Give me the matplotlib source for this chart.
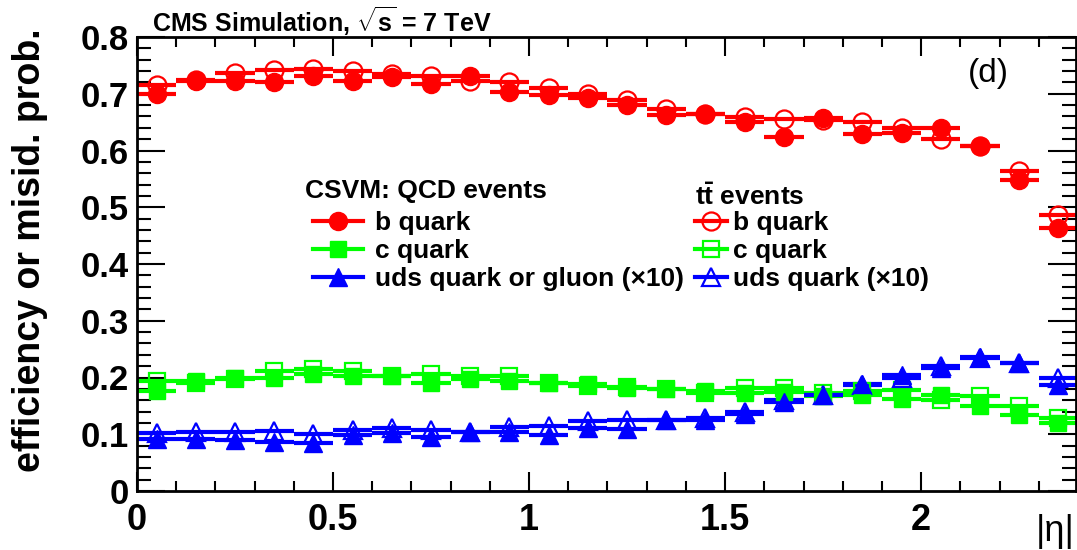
import numpy as np
import matplotlib
matplotlib.use('Agg')
import matplotlib.pyplot as plt
from matplotlib.ticker import MultipleLocator
from matplotlib.lines import Line2D

plt.rcParams['font.family'] = ['Liberation Sans', 'DejaVu Sans']
plt.rcParams['mathtext.fontset'] = 'custom'
plt.rcParams['mathtext.rm'] = 'Liberation Sans:bold'
plt.rcParams['mathtext.bf'] = 'Liberation Sans:bold'
plt.rcParams['mathtext.it'] = 'Liberation Sans:bold'

# |eta| bins (width 0.1)
eta = np.arange(24) * 0.1 + 0.05
half_width = 0.05

# QCD events (filled markers)
qcd_b = [0.699, 0.723, 0.722, 0.720, 0.732, 0.722, 0.729, 0.717, 0.731, 0.703,
         0.697, 0.693, 0.680, 0.662, 0.665, 0.651, 0.624, 0.657, 0.629, 0.631,
         0.639, 0.608, 0.548, 0.464]
qcd_c = [0.176, 0.194, 0.200, 0.200, 0.207, 0.203, 0.203, 0.191, 0.197, 0.193,
         0.191, 0.189, 0.181, 0.180, 0.177, 0.173, 0.174, 0.167, 0.169, 0.162,
         0.169, 0.149, 0.134, 0.120]
qcd_udsg = [0.092, 0.091, 0.089, 0.087, 0.085, 0.099, 0.102, 0.096, 0.104, 0.104,
            0.099, 0.111, 0.109, 0.125, 0.125, 0.135, 0.157, 0.169, 0.188, 0.205,
            0.217, 0.237, 0.226, 0.187]

# ttbar events (open markers)
tt_b = [0.716, 0.724, 0.737, 0.741, 0.744, 0.740, 0.734, 0.732, 0.722, 0.721,
        0.710, 0.700, 0.689, 0.674, 0.665, 0.659, 0.656, 0.653, 0.651, 0.640,
        0.621, 0.608, 0.563, 0.486]
tt_c = [0.194, 0.190, 0.197, 0.212, 0.215, 0.211, 0.203, 0.206, 0.203, 0.203,
        0.191, 0.185, 0.184, 0.180, 0.173, 0.181, 0.181, 0.173, 0.177, 0.178,
        0.160, 0.167, 0.149, 0.128]
tt_uds = [0.102, 0.104, 0.104, 0.105, 0.100, 0.108, 0.111, 0.107, 0.104, 0.113,
          0.114, 0.123, 0.125, 0.125, 0.128, 0.140, 0.160, 0.169, 0.187, 0.200,
          0.221, 0.235, 0.226, 0.200]

xticks = [0, 0.5, 1, 1.5, 2]
yticks = [0, 0.1, 0.2, 0.3, 0.4, 0.5, 0.6, 0.7, 0.8]

W, H = 1077, 550
fig = plt.figure(figsize=(10.77, 5.5), dpi=100)
ax = fig.add_axes([137 / W, 1 - 491 / H, (1076 - 137) / W, (491 - 37) / H])

red, green, blue = '#ff0000', '#00ff00', '#0000ff'
styles = [(red, 'o', 13), (green, 's', 12), (blue, '^', 13)]

# open markers first, filled on top
h_tt = []
for vals, (col, mk, ms) in zip([tt_b, tt_c, tt_uds], styles):
    ax.errorbar(eta, vals, xerr=half_width, fmt=mk, color=col, mfc='none', mec=col,
                mew=1.6, ms=ms, elinewidth=3, capsize=0)
    h_tt.append(Line2D([], [], color=col, lw=3, marker=mk, ms=ms, mfc='none',
                       mec=col, mew=1.6))
h_qcd = []
for vals, (col, mk, ms) in zip([qcd_b, qcd_c, qcd_udsg], styles):
    ax.errorbar(eta, vals, xerr=half_width, fmt=mk, color=col, mfc=col, mec=col,
                ms=ms, elinewidth=3, capsize=0)
    h_qcd.append(Line2D([], [], color=col, lw=3, marker=mk, ms=ms, mfc=col, mec=col))

ax.set_xlim(0, 2.395)
ax.set_ylim(0, 0.8)
ax.set_xticks(xticks)
ax.set_xticklabels(['0', '0.5', '1', '1.5', '2'])
ax.set_yticks(yticks)
ax.set_yticklabels(['0', '0.1', '0.2', '0.3', '0.4', '0.5', '0.6', '0.7', '0.8'])
ax.xaxis.set_minor_locator(MultipleLocator(0.1))
ax.yaxis.set_minor_locator(MultipleLocator(0.02))
ax.tick_params(axis='both', which='both', direction='in', top=True, right=True, width=1.5)
ax.tick_params(axis='y', which='major', length=20, labelsize=25, pad=6)
ax.tick_params(axis='y', which='minor', length=10)
ax.tick_params(axis='x', which='major', length=14, labelsize=26, pad=9)
ax.tick_params(axis='x', which='minor', length=7)
for lab in ax.get_xticklabels() + ax.get_yticklabels():
    lab.set_fontweight('bold')
for sp in ax.spines.values():
    sp.set_linewidth(2)

fig.text(30 / W, 1 - 250 / H, 'efficiency or misid. prob.', rotation=90,
         ha='center', va='center', fontsize=27, fontweight='bold')
fig.text(1075 / W, 1 - 549 / H, '|η|', ha='right', va='bottom', fontsize=26)
fig.text(152 / W, 1 - 32 / H, r'CMS Simulation, $\sqrt{\mathbf{s}}$ = 7 TeV', ha='left',
         va='baseline', fontsize=18, fontweight='bold')
fig.text(968 / W, 1 - 82 / H, '(d)', ha='left', va='baseline', fontsize=24)

fig.text(305 / W, 1 - 198 / H, 'CSVM: QCD events', ha='left', va='baseline',
         fontsize=19, fontweight='bold')
fig.text(695 / W, 1 - 205 / H, r'$\mathbf{t\bar{t}}$ events', ha='left', va='baseline',
         fontsize=19, fontweight='bold')

leg1 = fig.legend(h_qcd, ['b quark', 'c quark', 'uds quark or gluon (×10)'],
                  loc='upper left', bbox_to_anchor=(313 / W, 1 - 211 / H), frameon=False,
                  prop={'size': 19, 'weight': 'bold'}, handlelength=1.9, handletextpad=0.45,
                  labelspacing=0.15, borderpad=0, borderaxespad=0)
leg2 = fig.legend(h_tt, ['b quark', 'c quark', 'uds quark (×10)'],
                  loc='upper left', bbox_to_anchor=(695 / W, 1 - 211 / H), frameon=False,
                  prop={'size': 19, 'weight': 'bold'}, handlelength=1.2, handletextpad=0.25,
                  labelspacing=0.15, borderpad=0, borderaxespad=0)

fig.savefig('out.png', dpi=100)
